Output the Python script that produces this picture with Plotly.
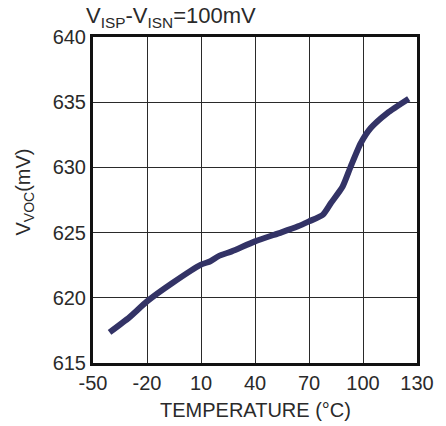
import plotly.graph_objects as go

temp_c = [-40.8, -29.8, -20, -5.9, 10, 15.2, 19.8, 27.1, 40, 54.7, 63.9, 70, 77.7, 82.2, 88.7, 93.2, 98.8, 104.3, 113.5, 125.4]
vvoc_mv = [617.35, 618.5, 619.72, 621.13, 622.54, 622.8, 623.2, 623.56, 624.33, 625.02, 625.48, 625.86, 626.37, 627.27, 628.54, 630.08, 631.87, 633.02, 634.17, 635.27]
x_ticks = [-50, -20, 10, 40, 70, 100, 130]
y_ticks = [615, 620, 625, 630, 635, 640]

font = "Liberation Sans, Arial, sans-serif"
txt = "#2a2a2a"

fig = go.Figure()
fig.add_trace(go.Scatter(x=temp_c, y=vvoc_mv, mode="lines",
                         line=dict(color="#333366", width=6, shape="spline", smoothing=0.6),
                         showlegend=False, hoverinfo="skip"))

axis_common = dict(showgrid=True, gridcolor="#2a2a2a", gridwidth=1.4,
                   showline=True, linecolor="#111111", linewidth=3, mirror=True,
                   ticks="", zeroline=False, tickfont=dict(size=20, family=font, color=txt))

fig.update_layout(
    width=446, height=426,
    margin=dict(l=93, r=26, t=37, b=63),
    paper_bgcolor="white", plot_bgcolor="white",
    font=dict(family=font, size=20, color=txt),
    xaxis=dict(range=[-50, 130], tickvals=x_ticks, ticktext=[str(v) for v in x_ticks], **axis_common),
    yaxis=dict(range=[615, 640], tickvals=y_ticks, ticktext=[str(v) for v in y_ticks], **axis_common),
    annotations=[
        dict(text="V<sub>ISP</sub>-V<sub>ISN</sub>=100mV",
             xref="paper", yref="paper", x=-0.028, y=1.0, xanchor="left", yanchor="bottom",
             yshift=4, showarrow=False, font=dict(size=22, family=font, color=txt)),
        dict(text="TEMPERATURE (°C)", xref="paper", yref="paper", x=0.5, y=-0.1455,
             xanchor="center", yanchor="middle", showarrow=False,
             font=dict(size=20, family=font, color=txt)),
        dict(text="V<sub>VOC</sub>(mV)", xref="paper", yref="paper",
             x=-0.211, y=0.525, xanchor="center", yanchor="middle", textangle=-90, showarrow=False,
             font=dict(size=20, family=font, color=txt)),
    ],
)

fig.write_html("out.html")
